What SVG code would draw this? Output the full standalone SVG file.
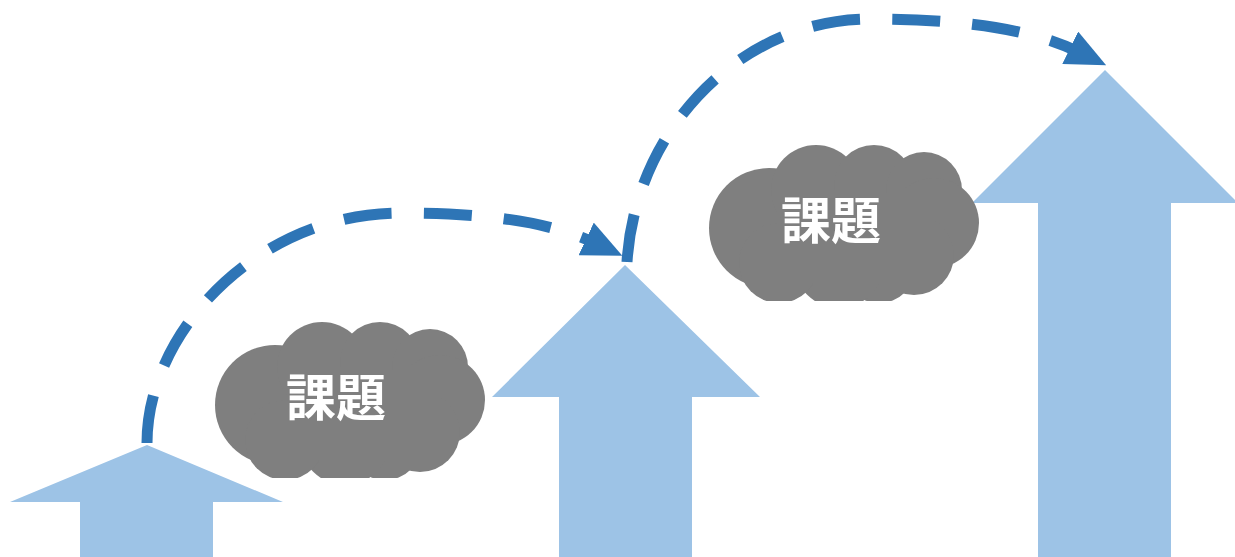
<svg xmlns="http://www.w3.org/2000/svg" xmlns:xlink="http://www.w3.org/1999/xlink" width="1235" height="557" viewBox="0 0 1235 557">
<style>
.arrow{fill:#9dc3e6;}
.cloud{fill:#7f7f7f;}
.label{fill:#ffffff;font-family:"Noto Sans CJK JP","Noto Sans CJK SC",sans-serif;font-weight:bold;font-size:50px;text-anchor:middle;}
.conn{fill:none;stroke:#2e75b6;stroke-width:11;stroke-dasharray:48 32;marker-end:url(#head);}
</style>
<defs>
<marker id="head" markerUnits="userSpaceOnUse" viewBox="0 0 40 36" markerWidth="40" markerHeight="36" refX="12" refY="18" orient="auto">
<path d="M0,0 L40,18 L0,36 z" fill="#2e75b6"/>
</marker>
<clipPath id="cloudClip"><rect x="215" y="300" width="280" height="178"/></clipPath>
<g id="cloudShape" clip-path="url(#cloudClip)">
<circle cx="275" cy="405" r="60"/>
<circle cx="322" cy="367" r="45"/>
<circle cx="380" cy="362" r="40"/>
<circle cx="430" cy="367" r="38"/>
<circle cx="440" cy="400" r="45"/>
<circle cx="420" cy="432" r="40"/>
<circle cx="385" cy="443" r="37"/>
<circle cx="345" cy="440" r="45"/>
<circle cx="285" cy="440" r="40"/>
<rect x="290" y="370" width="150" height="90"/>
</g>
</defs>
<g id="arrow1"><path class="arrow" d="M147,445 L283,502 L213,502 L213,557 L80,557 L80,502 L10,502 z"/></g>
<g id="arrow2"><path class="arrow" d="M625,265 L760,397 L692,397 L692,557 L559,557 L559,397 L492,397 z"/></g>
<g id="arrow3"><path class="arrow" d="M1105,70 L1238,203 L1171,203 L1171,557 L1038,557 L1038,203 L972,203 z"/></g>
<g id="cloud1"><use xlink:href="#cloudShape" class="cloud"/><text class="label" x="336" y="416">課題</text></g>
<g id="cloud2"><use xlink:href="#cloudShape" class="cloud" transform="translate(494,-177)"/><text class="label" x="831" y="239">課題</text></g>
<g id="connectors">
<path class="conn" d="M147,443 C147,330 260,213 400,213 C490,213 550,222 597,244"/>
<path class="conn" d="M627,262 C635,130 740,19 870,19 C960,19 1030,28 1081,53"/>
</g>
</svg>
